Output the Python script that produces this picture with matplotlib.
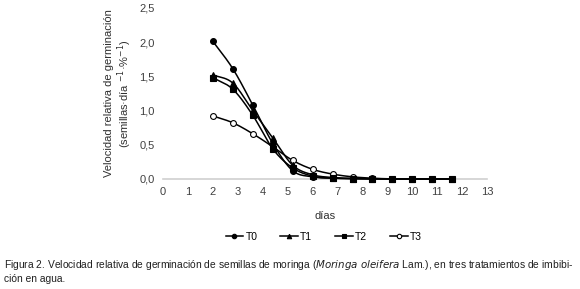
import numpy as np
import matplotlib
matplotlib.use("Agg")
import matplotlib.pyplot as plt
from matplotlib.lines import Line2D

plt.rcParams["font.family"] = ["Liberation Sans", "DejaVu Sans"]

# days of observation and relative germination speed per treatment
dias = [2.0, 2.8, 3.6, 4.4, 5.2, 6.0, 6.8, 7.6, 8.4, 9.2, 10.0, 10.8, 11.6]
t0 = [2.01, 1.61, 1.08, 0.52, 0.12, 0.03, 0.01, 0.005, 0.0, 0.0, 0.0, 0.0, 0.0]
t1 = [1.52, 1.40, 1.00, 0.60, 0.20, 0.06, 0.02, 0.005, 0.0, 0.0, 0.0, 0.0, 0.0]
t2 = [1.48, 1.31, 0.93, 0.44, 0.16, 0.04, 0.01, 0.005, 0.0, 0.0, 0.0, 0.0, 0.0]
t3 = [0.92, 0.82, 0.66, 0.47, 0.27, 0.14, 0.07, 0.03, 0.01, 0.0, 0.0, 0.0, 0.0]

series = [("T0", t0, "o", "black"), ("T1", t1, "^", "black"),
          ("T2", t2, "s", "black"), ("T3", t3, "o", "white")]


def smooth(x, y, n=20):
    # catmull-rom through the points, like the spreadsheet "smoothed line"
    x = np.asarray(x, float); y = np.asarray(y, float)
    px = np.concatenate([[2 * x[0] - x[1]], x, [2 * x[-1] - x[-2]]])
    py = np.concatenate([[2 * y[0] - y[1]], y, [2 * y[-1] - y[-2]]])
    xs, ys = [], []
    t = np.linspace(0, 1, n, endpoint=False)
    for i in range(1, len(px) - 2):
        for arr, out in ((px, xs), (py, ys)):
            p0, p1, p2, p3 = arr[i - 1], arr[i], arr[i + 1], arr[i + 2]
            out.extend(0.5 * ((2 * p1) + (-p0 + p2) * t
                              + (2 * p0 - 5 * p1 + 4 * p2 - p3) * t ** 2
                              + (-p0 + 3 * p1 - 3 * p2 + p3) * t ** 3))
    xs.append(x[-1]); ys.append(y[-1])
    return np.array(xs), np.clip(np.array(ys), 0, None)


fig = plt.figure(figsize=(5.8, 2.89), dpi=100)
ax = fig.add_axes([0.281, 0.381, 0.559, 0.592])

# T3 underneath, filled series on top (T2 last, as in the original)
z = {"T3": 3, "T0": 4, "T1": 5, "T2": 6}
for name, vals, mk, fc in series:
    sx, sy = smooth(dias, vals)
    ax.plot(sx, sy, color="black", lw=1.1, zorder=z[name], clip_on=False)
    ax.plot(dias, vals, ls="none", marker=mk, ms=4.2, mfc=fc, mec="black",
            mew=0.8, zorder=z[name] + 0.5, clip_on=False)

ax.set_xlim(0, 13)
ax.set_ylim(0, 2.5)
ax.set_xticks(range(0, 14))
ax.set_yticks([0, 0.5, 1.0, 1.5, 2.0, 2.5])
ax.set_yticklabels(["0,0", "0,5", "1,0", "1,5", "2,0", "2,5"])
ax.tick_params(length=0, labelsize=8, colors="#404040", pad=6)
for s in ("top", "right", "left"):
    ax.spines[s].set_visible(False)
ax.spines["bottom"].set_color("#d0d0d0")
ax.spines["bottom"].set_linewidth(1.2)
ax.spines["bottom"].set_zorder(1)
ax.set_xlabel("días", fontsize=8, color="#303030", labelpad=10)
ax.set_ylabel("Velocidad relativa de germinación\n"
              "(semillas·día $^{-1}$·%$^{-1}$)", fontsize=8, color="#303030",
              labelpad=4, linespacing=1.1)

handles = [Line2D([], [], color="black", lw=1.1, marker=mk, ms=3.2, mfc=fc,
                  mec="black", mew=0.8) for _, _, mk, fc in series]
fig.legend(handles, [s[0] for s in series], loc="center",
           bbox_to_anchor=(0.558, 0.18), ncol=4, frameon=False, fontsize=7.5,
           handlelength=1.7, handletextpad=0.2, columnspacing=2.2)

fig.text(0.007, 0.072, "Figura 2. Velocidad relativa de germinación de semillas de moringa "
         "($\\it{Moringa\\ oleifera}$ Lam.), en tres tratamientos de imbibi-",
         fontsize=7.4, color="#202020")
fig.text(0.007, 0.023, "ción en agua.", fontsize=7.4, color="#202020")

fig.savefig("out.png", dpi=100)
